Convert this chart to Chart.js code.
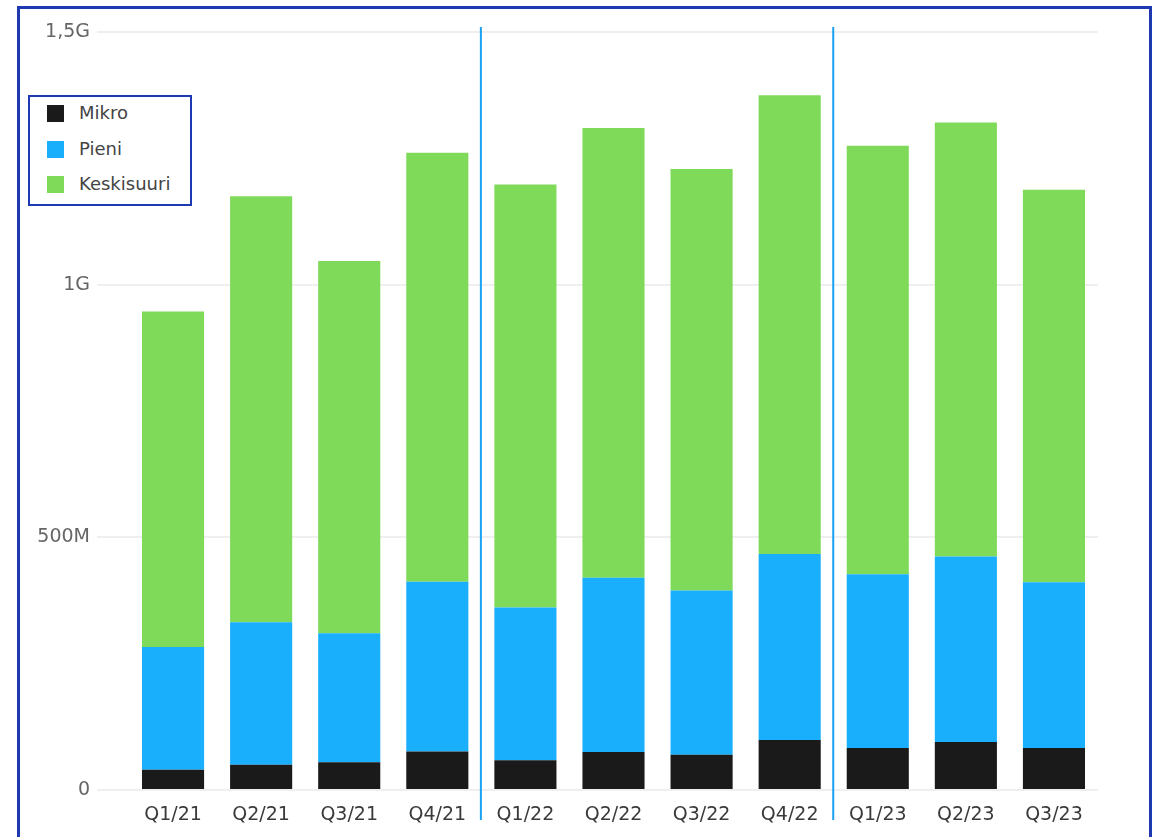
<!DOCTYPE html>
<html>
<head>
<meta charset="utf-8">
<script src="https://cdn.jsdelivr.net/npm/chart.js@4/dist/chart.umd.min.js"></script>
<style>
  html, body { margin: 0; padding: 0; background: #ffffff; }
  #wrap { position: relative; width: 1163px; height: 837px; overflow: hidden; background: #fff; }
  #frame { position: absolute; left: 17px; top: 6px; width: 1135px; height: 850px;
           border: 3px solid #1d38b0; border-bottom: none; box-sizing: border-box; }
  canvas { position: absolute; left: 0; top: 0; }
  #legend { position: absolute; left: 28px; top: 95px; width: 164px; height: 111px;
            border: 2px solid #1d38b0; box-sizing: border-box; background: #fff;
            font-family: "DejaVu Sans", sans-serif; font-size: 18px; color: #444; }
  .item { position: absolute; left: 17px; height: 20px; line-height: 20px; white-space: nowrap; }
  .sw { position: absolute; left: 0; top: 2px; width: 17px; height: 17px; }
  .lbl { position: absolute; left: 32px; top: 0; }
</style>
</head>
<body>
<div id="wrap">
  <canvas id="c" width="1163" height="837"></canvas>
  <div id="frame"></div>
  <div id="legend"></div>
</div>
<script>
// Data (values in millions)
const categories = ['Q1/21','Q2/21','Q3/21','Q4/21','Q1/22','Q2/22','Q3/22','Q4/22','Q1/23','Q2/23','Q3/23'];
const seriesNames = ['Mikro','Pieni','Keskisuuri'];
const mikro      = [40, 50, 55, 76, 59, 75, 70, 99, 83, 95, 83];
const pieni      = [243, 282, 255, 336, 302, 345, 325, 368, 344, 367, 328];
const keskisuuri = [664, 843, 737, 849, 837, 890, 834, 908, 848, 859, 777];
const yTickValues = [0, 500, 1000, 1500];
const yTickLabels = ['0', '500M', '1G', '1,5G'];
const separatorsAfter = ['Q4/21', 'Q4/22'];

const colors = ['#1a1a1a', '#1aaffd', '#7fda5a'];
const seriesData = [mikro, pieni, keskisuuri];

const separatorPlugin = {
  id: 'separators',
  afterDatasetsDraw(chart) {
    const x = chart.scales.x, y = chart.scales.y, ctx = chart.ctx;
    ctx.save();
    ctx.strokeStyle = '#1aa2f0';
    ctx.lineWidth = 2;
    separatorsAfter.forEach(cat => {
      const i = categories.indexOf(cat);
      const px = (x.getPixelForValue(i) + x.getPixelForValue(i + 1)) / 2 - 0.5;
      ctx.beginPath();
      ctx.moveTo(px, y.top - 5);
      ctx.lineTo(px, y.bottom + 30);
      ctx.stroke();
    });
    ctx.restore();
  }
};

const chart = new Chart(document.getElementById('c'), {
  type: 'bar',
  data: {
    labels: categories,
    datasets: seriesNames.map((n, k) => ({
      label: n,
      data: seriesData[k],
      backgroundColor: colors[k],
      borderWidth: 0,
      categoryPercentage: 1.0,
      barPercentage: 0.705
    }))
  },
  options: {
    responsive: false,
    devicePixelRatio: 1,
    animation: false,
    layout: { padding: { left: 0, right: 65, top: 32, bottom: 0 } },
    plugins: { legend: { display: false }, tooltip: { enabled: false } },
    scales: {
      x: {
        stacked: true,
        grid: { display: false },
        border: { display: false },
        ticks: { color: '#3a3a3a', padding: 6, maxRotation: 0,
                 font: { family: 'DejaVu Sans', size: 19 } },
        afterFit(scale) { scale.height = 47; }
      },
      y: {
        stacked: true,
        min: 0, max: 1500,
        afterBuildTicks(scale) { scale.ticks = yTickValues.map(v => ({ value: v })); },
        grid: { color: '#efefef', lineWidth: 2, tickLength: 32, drawTicks: true },
        border: { display: false },
        ticks: {
          color: '#666', padding: 7,
          font: { family: 'DejaVu Sans', size: 19 },
          callback(v) { const i = yTickValues.indexOf(v); return i >= 0 ? yTickLabels[i] : ''; }
        },
        afterFit(scale) { scale.width = 129; }
      }
    }
  },
  plugins: [separatorPlugin]
});

// HTML legend built from the series
const legend = document.getElementById('legend');
seriesNames.forEach((n, k) => {
  const it = document.createElement('div');
  it.className = 'item';
  it.style.top = (6 + k * 35.5) + 'px';
  it.innerHTML = '<span class="sw" style="background:' + colors[k] + '"></span><span class="lbl">' + n + '</span>';
  legend.appendChild(it);
});
</script>
</body>
</html>
